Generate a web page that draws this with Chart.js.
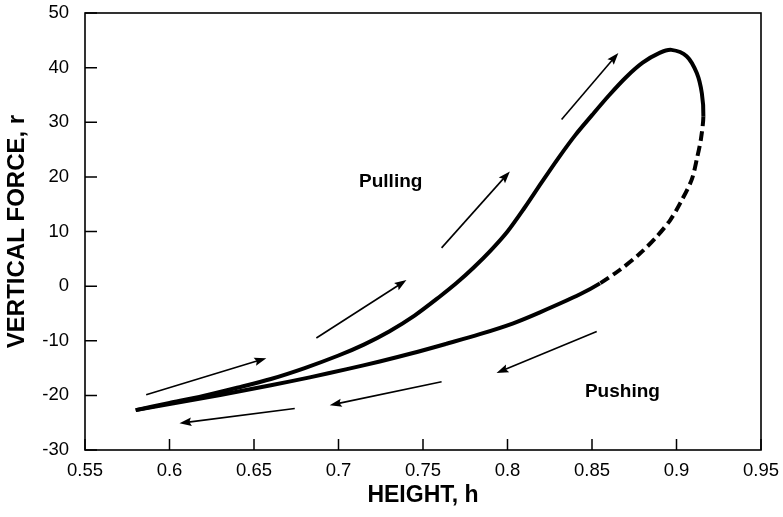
<!DOCTYPE html>
<html><head><meta charset="utf-8">
<script src="https://cdn.jsdelivr.net/npm/chart.js@4/dist/chart.umd.min.js"></script>
<style>html,body{margin:0;padding:0;background:#fff;}#wrap{width:783px;height:517px;}</style>
</head><body><div id="wrap"><canvas id="c" width="783" height="517"></canvas></div>
<script>
// ---- data ----
const xTickValues = [0.55,0.6,0.65,0.7,0.75,0.8,0.85,0.9,0.95];
const xTickLabels = ['0.55','0.6','0.65','0.7','0.75','0.8','0.85','0.9','0.95'];
const yTickValues = [-30,-20,-10,0,10,20,30,40,50];
const yTickLabels = ['-30','-20','-10','0','10','20','30','40','50'];

// pulling branch (solid, upward)
const pullH = [0.580,0.600,0.620,0.640,0.660,0.680,0.700,0.715,0.730,0.745,0.760,0.770,0.780,0.790,0.800,0.810,0.820,0.830,0.840,0.850,0.860,0.870,0.880,0.890,0.897,0.906,0.912,0.915,0.9159];
const pullR = [-22.7,-21.4,-20.1,-18.6,-17.0,-15.0,-12.7,-10.7,-8.3,-5.4,-1.9,0.6,3.4,6.5,10.0,14.3,18.9,23.4,27.6,31.3,34.9,38.2,40.9,42.7,43.25,42.1,39.0,35.3,31.1];
// return branch (dashed)
const returnH = [0.9159,0.9145,0.9122,0.9090,0.9022,0.8963,0.8884,0.8785,0.8666,0.8547];
const returnR = [31.1,27.0,23.5,19.5,15.2,12.1,9.1,6.0,3.0,0.5];
// pushing branch (solid, downward)
const pushH = [0.8547,0.8429,0.8192,0.8034,0.7836,0.7639,0.7441,0.7244,0.705,0.683,0.660,0.640,0.620,0.600,0.580];
const pushR = [0.5,-1.5,-4.8,-6.8,-8.8,-10.55,-12.25,-13.8,-15.2,-16.7,-18.15,-19.35,-20.5,-21.6,-22.7];

// direction arrows (tail -> head)
const arrowFromH = [0.5862,0.6869,0.7610,0.8320,0.8528,0.7610,0.6741];
const arrowFromR = [-19.9,-9.5,7.0,30.5,-8.3,-17.5,-22.4];
const arrowToH   = [0.6573,0.7402,0.8014,0.8656,0.7935,0.6948,0.6059];
const arrowToR   = [-13.2,1.1,21.0,42.7,-15.9,-21.8,-25.1];

// region labels
const noteText = ['Pulling','Pushing'];
const noteH = [0.7309,0.868];
const noteR = [19.1,-19.4];

// ---- build ----
const pts = [];
pullH.forEach((h,i)=>pts.push({x:h,y:pullR[i]}));
returnH.slice(1).forEach((h,i)=>pts.push({x:h,y:returnR[i+1]}));
pushH.slice(1).forEach((h,i)=>pts.push({x:h,y:pushR[i+1]}));
const dashFrom = pullH.length-1;
const dashTo = dashFrom + returnH.length-1;

const FONT = "'Liberation Sans', Arial, Helvetica, sans-serif";

const decor = {
  id:'decor',
  afterDatasetsDraw(chart){
    const ctx = chart.ctx, a = chart.chartArea;
    const xs = chart.scales.x, ys = chart.scales.y;
    ctx.save();
    ctx.strokeStyle = '#000';
    ctx.fillStyle = '#000';
    // frame
    ctx.lineWidth = 1.6;
    ctx.strokeRect(a.left, a.top, a.right-a.left, a.bottom-a.top);
    // inward ticks
    ctx.lineWidth = 1.5;
    ctx.beginPath();
    xTickValues.forEach(v=>{const p = xs.getPixelForValue(v); ctx.moveTo(p,a.bottom); ctx.lineTo(p,a.bottom-11);});
    yTickValues.forEach(v=>{const p = ys.getPixelForValue(v); ctx.moveTo(a.left,p); ctx.lineTo(a.left+12,p);});
    ctx.stroke();
    // arrows
    for (let i=0;i<arrowFromH.length;i++){
      const x0 = xs.getPixelForValue(arrowFromH[i]), y0 = ys.getPixelForValue(arrowFromR[i]);
      const x1 = xs.getPixelForValue(arrowToH[i]), y1 = ys.getPixelForValue(arrowToR[i]);
      const ang = Math.atan2(y1-y0,x1-x0);
      const L = 12, W = 4.2;
      const bx = x1 - L*Math.cos(ang), by = y1 - L*Math.sin(ang);
      ctx.lineWidth = 1.6;
      ctx.beginPath(); ctx.moveTo(x0,y0); ctx.lineTo(bx+3*Math.cos(ang),by+3*Math.sin(ang)); ctx.stroke();
      ctx.beginPath();
      ctx.moveTo(x1,y1);
      ctx.lineTo(bx - W*Math.sin(ang), by + W*Math.cos(ang));
      ctx.lineTo(bx + 2*Math.cos(ang), by + 2*Math.sin(ang));
      ctx.lineTo(bx + W*Math.sin(ang), by - W*Math.cos(ang));
      ctx.closePath(); ctx.fill();
    }
    // labels
    ctx.font = "bold 19px " + FONT;
    ctx.textAlign = 'center'; ctx.textBaseline = 'middle';
    noteText.forEach((t,i)=>ctx.fillText(t, xs.getPixelForValue(noteH[i]), ys.getPixelForValue(noteR[i])));
    ctx.restore();
  }
};

new Chart(document.getElementById('c'), {
  type:'scatter',
  data:{datasets:[{
    data: pts,
    showLine:true,
    borderColor:'#000',
    borderWidth:4,
    pointRadius:0,
    tension:0.3,
    fill:false,
    segment:{ borderDash: ctx => (ctx.p0DataIndex >= dashFrom && ctx.p1DataIndex <= dashTo) ? [10,5] : undefined }
  }]},
  options:{
    responsive:false, animation:false, devicePixelRatio:1,
    layout:{padding:{left:0,right:22,top:13,bottom:0}},
    plugins:{legend:{display:false}, tooltip:{enabled:false}},
    scales:{
      x:{
        type:'linear', min:0.55, max:0.95,
        afterBuildTicks: s => { s.ticks = xTickValues.map(v=>({value:v})); },
        afterFit: s => { s.height = 67; s.paddingLeft = 0; s.paddingRight = 0; },
        ticks:{ callback:(v,i)=>xTickLabels[i], color:'#000', font:{family:FONT,size:18.5}, padding:10, maxRotation:0, autoSkip:false },
        grid:{ display:false, drawTicks:false },
        border:{ display:false },
        title:{ display:true, text:'HEIGHT, h', color:'#000', font:{family:FONT,size:23,weight:'bold'}, padding:{top:0,bottom:8} }
      },
      y:{
        type:'linear', min:-30, max:50,
        afterBuildTicks: s => { s.ticks = yTickValues.map(v=>({value:v})); },
        afterFit: s => { s.width = 85; s.paddingTop = 0; s.paddingBottom = 0; },
        ticks:{ callback:(v,i)=>yTickLabels[i], color:'#000', font:{family:FONT,size:18.5}, padding:16, autoSkip:false },
        grid:{ display:false, drawTicks:false },
        border:{ display:false },
        title:{ display:true, text:'VERTICAL FORCE, r', color:'#000', font:{family:FONT,size:24,weight:'bold'}, padding:{top:3,bottom:0} }
      }
    }
  },
  plugins:[decor]
});
</script>
</body></html>
